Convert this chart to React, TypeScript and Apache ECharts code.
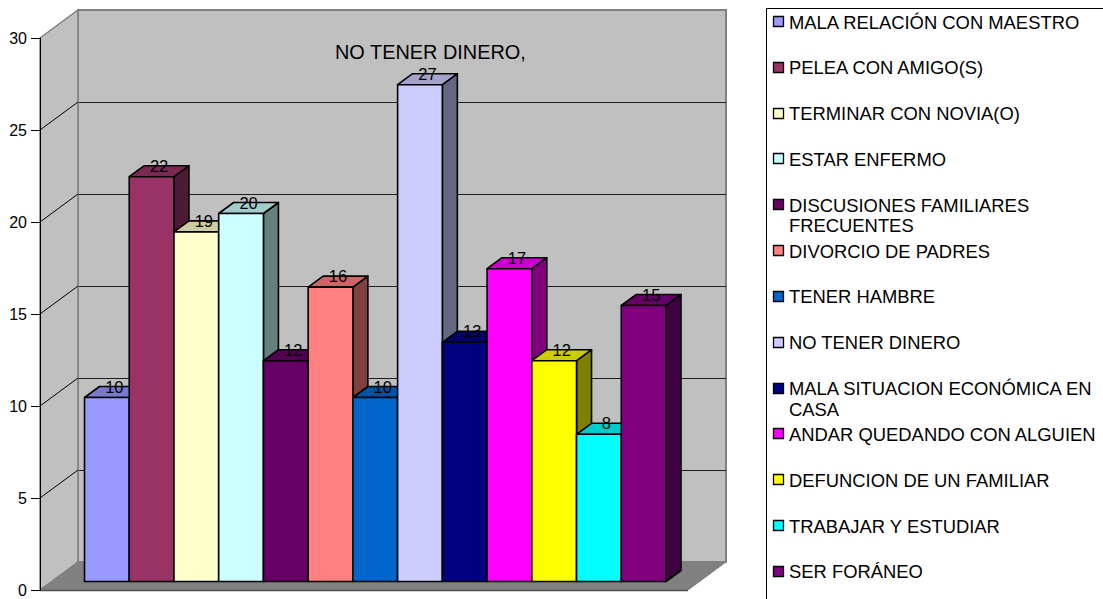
import React, { useEffect, useRef } from "react";
import * as echarts from "echarts";

const categories = [
  "MALA RELACIÓN CON MAESTRO",
  "PELEA CON AMIGO(S)",
  "TERMINAR CON NOVIA(O)",
  "ESTAR ENFERMO",
  "DISCUSIONES FAMILIARES FRECUENTES",
  "DIVORCIO DE PADRES",
  "TENER HAMBRE",
  "NO TENER DINERO",
  "MALA SITUACION ECONÓMICA EN CASA",
  "ANDAR QUEDANDO CON ALGUIEN",
  "DEFUNCION DE UN FAMILIAR",
  "TRABAJAR Y ESTUDIAR",
  "SER FORÁNEO",
];
const legendLines = [
  ["MALA RELACIÓN CON MAESTRO"],
  ["PELEA CON AMIGO(S)"],
  ["TERMINAR CON NOVIA(O)"],
  ["ESTAR ENFERMO"],
  ["DISCUSIONES FAMILIARES", "FRECUENTES"],
  ["DIVORCIO DE PADRES"],
  ["TENER HAMBRE"],
  ["NO TENER DINERO"],
  ["MALA SITUACION ECONÓMICA EN", "CASA"],
  ["ANDAR QUEDANDO CON ALGUIEN"],
  ["DEFUNCION DE UN FAMILIAR"],
  ["TRABAJAR Y ESTUDIAR"],
  ["SER FORÁNEO"],
];
const values = [10, 22, 19, 20, 12, 16, 10, 27, 13, 17, 12, 8, 15];
const colors = [
  "#9999ff", "#993366", "#ffffcc", "#ccffff", "#660066", "#ff8080", "#0066cc",
  "#ccccff", "#000080", "#ff00ff", "#ffff00", "#00ffff", "#800080",
];
const yTicks = [0, 5, 10, 15, 20, 25, 30];
const annotation = "NO TENER DINERO,";

const FONT = '"Liberation Sans", Arial, sans-serif';
const WALL_DX = 38;
const WALL_DY = -28;
const BAR_DX = 15;
const BAR_DY = -11;

function shade(hex: string, k: number) {
  const n = parseInt(hex.slice(1), 16);
  const c = [(n >> 16) & 255, (n >> 8) & 255, n & 255].map((v) => Math.round(v * k));
  return `rgb(${c[0]},${c[1]},${c[2]})`;
}

function renderWalls(params: any, api: any) {
  const cs = params.coordSys;
  const v = api.value(1);
  const y = api.coord([0, v])[1];
  const x0 = cs.x;
  const x1 = cs.x + cs.width;
  const yb = cs.y + cs.height;
  const children: any[] = [];
  if (params.dataIndex === 0) {
    children.push({
      type: "polygon",
      shape: { points: [[x0, cs.y], [x0 + WALL_DX, cs.y + WALL_DY], [x0 + WALL_DX, yb + WALL_DY], [x0, yb]] },
      style: { fill: "#c0c0c0", stroke: "#808080", lineWidth: 1.5 },
    });
    children.push({
      type: "polygon",
      shape: { points: [[x0, yb], [x0 + WALL_DX, yb + WALL_DY], [x1 + WALL_DX, yb + WALL_DY], [x1, yb]] },
      style: { fill: "#808080", stroke: "#808080", lineWidth: 1 },
    });
    children.push({
      type: "line",
      shape: { x1: x0, y1: yb + 0.5, x2: x1, y2: yb + 0.5 },
      style: { stroke: "#505050", lineWidth: 1.5 },
    });
  }
  if (v > 0 && v < 30) {
    children.push({
      type: "line",
      shape: { x1: x0, y1: y, x2: x0 + WALL_DX, y2: y + WALL_DY },
      style: { stroke: "#000", lineWidth: 1 },
    });
  }
  return { type: "group", children };
}

function renderBar(params: any, api: any) {
  const i = api.value(0);
  const v = api.value(1);
  const [cx, yTop] = api.coord([i, v]);
  const [, yBottom] = api.coord([i, 0]);
  const w = api.size([1, 0])[0];
  const xl = cx - w / 2;
  const xr = cx + w / 2;
  const color = colors[params.dataIndex];
  const edge = { stroke: "#000", lineWidth: 1.6, lineJoin: "round" };
  return {
    type: "group",
    children: [
      {
        type: "polygon",
        shape: { points: [[xr, yTop], [xr + BAR_DX, yTop + BAR_DY], [xr + BAR_DX, yBottom + BAR_DY], [xr, yBottom]] },
        style: { fill: shade(color, 0.5), ...edge },
      },
      {
        type: "polygon",
        shape: { points: [[xl, yTop], [xl + BAR_DX, yTop + BAR_DY], [xr + BAR_DX, yTop + BAR_DY], [xr, yTop]] },
        style: { fill: shade(color, 0.8), ...edge },
      },
      {
        type: "rect",
        shape: { x: xl, y: yTop, width: w, height: yBottom - yTop },
        style: { fill: color, ...edge },
      },
      {
        type: "text",
        z2: 100,
        style: {
          x: cx + BAR_DX / 2,
          y: yTop + BAR_DY,
          text: String(v),
          fill: "#000",
          font: `16.5px ${FONT}`,
          textAlign: "center",
          textVerticalAlign: "middle",
        },
      },
    ],
  };
}

function legendGraphics() {
  const out: any[] = [
    {
      type: "rect",
      shape: { x: 766.5, y: 8.5, width: 500, height: 800 },
      style: { fill: "#fff", stroke: "#000", lineWidth: 1 },
      z: 0,
    },
  ];
  legendLines.forEach((lines, i) => {
    const y = 22 + i * 45.83;
    out.push({
      type: "rect",
      shape: { x: 773.5, y: Math.round(y) - 5.5, width: 10, height: 10 },
      style: { fill: colors[i], stroke: "#000", lineWidth: 1.3 },
      z: 1,
    });
    lines.forEach((t, j) => {
      out.push({
        type: "text",
        x: 789,
        y: y + j * 20.5,
        style: { text: t, fill: "#000", font: `18.4px ${FONT}`, textAlign: "left", textVerticalAlign: "middle" },
        z: 1,
      });
    });
  });
  out.push({
    type: "text",
    x: 335,
    y: 52,
    style: { text: annotation, fill: "#000", font: `19.9px ${FONT}`, textAlign: "left", textVerticalAlign: "middle" },
    z: 10,
  });
  return out;
}

export default function App() {
  const ref = useRef<HTMLDivElement>(null);
  useEffect(() => {
    const chart = echarts.init(ref.current!, undefined, { renderer: "svg" });
    const yBase = { type: "value", min: 0, max: 30, interval: 5 };
    chart.setOption({
      animation: false,
      backgroundColor: "#fff",
      tooltip: { show: false },
      graphic: legendGraphics(),
      grid: [
        { left: 40, top: 38, width: 648, height: 552 },
        {
          left: 78, top: 10, width: 648, height: 552, show: true,
          backgroundColor: "#c0c0c0", borderColor: "#808080", borderWidth: 2,
        },
        { left: 84.5, top: 29.5, width: 581.5, height: 552 },
      ],
      xAxis: [0, 1, 2].map((g) => ({
        type: "category",
        gridIndex: g,
        data: categories,
        show: false,
      })),
      yAxis: [
        {
          ...yBase,
          gridIndex: 0,
          axisLine: { show: true, lineStyle: { color: "#000", width: 1 } },
          axisTick: { show: true, length: 9, lineStyle: { color: "#000", width: 1 } },
          axisLabel: { show: true, margin: 13, color: "#000", fontSize: 16, fontFamily: FONT },
          splitLine: { show: false },
          z: 5,
        },
        {
          ...yBase,
          gridIndex: 1,
          axisLine: { show: false },
          axisTick: { show: false },
          axisLabel: { show: false },
          splitLine: { show: true, showMinLine: false, showMaxLine: false, lineStyle: { color: "#000", width: 1, opacity: 0.85 } },
        },
        {
          ...yBase,
          gridIndex: 2,
          axisLine: { show: false },
          axisTick: { show: false },
          axisLabel: { show: false },
          splitLine: { show: false },
        },
      ],
      series: [
        {
          type: "custom",
          name: "walls",
          xAxisIndex: 0,
          yAxisIndex: 0,
          z: 1,
          silent: true,
          clip: false,
          renderItem: renderWalls,
          data: yTicks.map((t) => [0, t]),
          encode: { x: 0, y: 1 },
        },
        {
          type: "custom",
          name: "Causas",
          xAxisIndex: 2,
          yAxisIndex: 2,
          z: 3,
          clip: false,
          renderItem: renderBar,
          data: values.map((v, i) => [i, v]),
          encode: { x: 0, y: 1 },
        },
      ],
    });
    return () => chart.dispose();
  }, []);
  return (
    <div
      ref={ref}
      style={{ position: "absolute", left: 0, top: 0, width: 1103, height: 599, overflow: "hidden" }}
    />
  );
}
